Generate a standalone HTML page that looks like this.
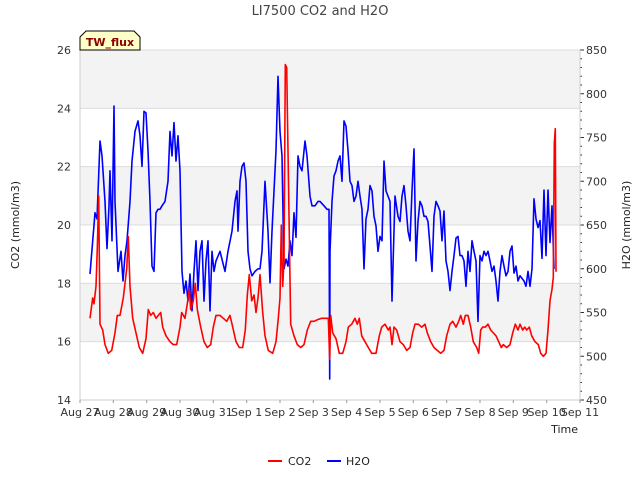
<!DOCTYPE html>
<html><head><meta charset="utf-8"><style>
body{margin:0;background:#fff;font-family:"Liberation Sans","DejaVu Sans",sans-serif;}
svg text{font-family:"DejaVu Sans","Liberation Sans",sans-serif;}
</style></head><body>
<svg id="chart" width="640" height="480" xmlns="http://www.w3.org/2000/svg">
<rect x="0" y="0" width="640" height="480" fill="#fff"/>
<g id="bands"></g><g id="grid"></g><g id="series"></g><g id="axes"></g>
<text x="320" y="15" text-anchor="middle" font-size="13" fill="#444">LI7500 CO2 and H2O</text>
<g>
<path d="M80,37 L86,31 L134,31 L140,37 L140,50 L80,50 Z" fill="#ffffc8" stroke="#000" stroke-width="1"/>
<text x="110" y="46" text-anchor="middle" font-size="11" font-weight="bold" fill="#8b0000">TW_flux</text>
</g>
<text transform="translate(19,225) rotate(-90)" text-anchor="middle" font-size="11" fill="#222">CO2 (mmol/m3)</text>
<text transform="translate(630,225) rotate(-90)" text-anchor="middle" font-size="11" fill="#222">H2O (mmol/m3)</text>
<text x="578" y="433" text-anchor="end" font-size="11" fill="#222">Time</text>
<g>
<g><line x1="268" y1="461" x2="282" y2="461" stroke="#f00" stroke-width="2"/><text x="288" y="465" font-size="11" fill="#222">CO2</text></g>
<g><line x1="327" y1="461" x2="341" y2="461" stroke="#00f" stroke-width="2"/><text x="346" y="465" font-size="11" fill="#222">H2O</text></g>
</g>
</svg>
<script>
const xTickLabels=["Aug 27","Aug 28","Aug 29","Aug 30","Aug 31","Sep 1","Sep 2","Sep 3","Sep 4","Sep 5","Sep 6","Sep 7","Sep 8","Sep 9","Sep 10","Sep 11"];
const leftTicks=[14,16,18,20,22,24,26];
const rightTicks=[450,500,550,600,650,700,750,800,850];
const co2Time=[0.30,0.38,0.42,0.48,0.52,0.56,0.60,0.68,0.75,0.85,0.95,1.05,1.12,1.20,1.30,1.40,1.45,1.50,1.58,1.68,1.78,1.88,1.98,2.05,2.12,2.20,2.28,2.35,2.42,2.48,2.58,2.70,2.80,2.90,3.00,3.05,3.15,3.22,3.28,3.32,3.40,3.46,3.52,3.62,3.72,3.82,3.92,4.00,4.08,4.20,4.30,4.40,4.50,4.58,4.68,4.78,4.88,4.96,5.02,5.08,5.15,5.22,5.28,5.34,5.40,5.48,5.55,5.65,5.78,5.88,5.95,6.00,6.04,6.08,6.12,6.16,6.20,6.26,6.32,6.42,6.52,6.62,6.72,6.82,6.92,7.02,7.12,7.25,7.45,7.49,7.52,7.58,7.68,7.78,7.88,7.98,8.05,8.15,8.25,8.32,8.38,8.45,8.55,8.65,8.75,8.88,8.98,9.05,9.15,9.25,9.30,9.36,9.42,9.50,9.60,9.70,9.80,9.90,9.98,10.05,10.15,10.25,10.35,10.42,10.52,10.62,10.72,10.82,10.92,11.00,11.10,11.18,11.28,11.36,11.42,11.50,11.56,11.64,11.72,11.80,11.90,11.96,12.02,12.08,12.16,12.24,12.32,12.40,12.48,12.56,12.64,12.70,12.80,12.90,12.98,13.06,13.14,13.20,13.28,13.34,13.40,13.48,13.55,13.65,13.75,13.82,13.90,13.98,14.04,14.10,14.16,14.20,14.23,14.26,14.28];
const co2Value=[16.8,17.5,17.3,17.9,19.2,21.0,16.6,16.4,15.9,15.6,15.7,16.3,16.9,16.9,17.5,18.5,19.6,17.9,16.8,16.3,15.8,15.6,16.1,17.1,16.9,17.0,16.8,16.9,17.0,16.5,16.2,16.0,15.9,15.9,16.5,17.0,16.8,17.3,17.8,17.1,17.4,18.0,17.1,16.5,16.0,15.8,15.9,16.5,16.9,16.9,16.8,16.7,16.9,16.5,16.0,15.8,15.8,16.4,17.6,18.3,17.4,17.6,17.0,17.5,18.3,17.0,16.2,15.7,15.6,16.0,16.8,17.5,20.0,17.9,18.8,25.5,25.4,21.0,16.6,16.2,15.9,15.8,15.9,16.4,16.7,16.7,16.75,16.8,16.8,15.4,16.9,16.3,16.1,15.6,15.6,16.0,16.5,16.6,16.8,16.6,16.8,16.2,16.0,15.8,15.6,15.6,16.2,16.5,16.6,16.4,16.5,15.9,16.5,16.4,16.0,15.9,15.7,15.8,16.3,16.6,16.6,16.5,16.6,16.3,16.0,15.8,15.7,15.6,15.7,16.2,16.6,16.7,16.5,16.7,16.9,16.6,16.9,16.9,16.5,16.0,15.8,15.6,16.4,16.5,16.5,16.6,16.4,16.3,16.2,16.0,15.8,15.9,15.8,15.9,16.3,16.6,16.4,16.6,16.4,16.5,16.4,16.5,16.2,16.0,15.9,15.6,15.5,15.6,16.4,17.4,17.8,18.2,22.8,23.3,18.4];
const h2oTime=[0.30,0.45,0.51,0.60,0.66,0.75,0.81,0.87,0.90,0.96,1.02,1.05,1.14,1.23,1.29,1.35,1.41,1.50,1.56,1.65,1.74,1.80,1.86,1.92,1.98,2.04,2.10,2.16,2.22,2.28,2.34,2.40,2.46,2.55,2.64,2.70,2.76,2.82,2.88,2.94,3.00,3.06,3.12,3.18,3.24,3.30,3.36,3.42,3.48,3.54,3.60,3.66,3.72,3.78,3.84,3.90,3.96,4.02,4.08,4.20,4.35,4.44,4.56,4.65,4.71,4.74,4.80,4.86,4.92,4.98,5.04,5.10,5.16,5.25,5.34,5.40,5.46,5.55,5.64,5.70,5.76,5.82,5.88,5.94,6.00,6.06,6.12,6.18,6.24,6.30,6.36,6.42,6.48,6.54,6.60,6.66,6.75,6.81,6.90,6.96,7.05,7.14,7.20,7.32,7.41,7.47,7.49,7.50,7.56,7.62,7.68,7.74,7.80,7.86,7.92,7.98,8.04,8.10,8.16,8.22,8.28,8.34,8.40,8.46,8.52,8.58,8.64,8.70,8.76,8.82,8.88,8.94,9.00,9.06,9.12,9.18,9.24,9.30,9.36,9.45,9.54,9.60,9.66,9.72,9.78,9.84,9.90,9.96,10.02,10.08,10.14,10.20,10.26,10.32,10.38,10.44,10.50,10.56,10.62,10.68,10.74,10.80,10.86,10.92,10.98,11.04,11.10,11.16,11.22,11.28,11.34,11.40,11.46,11.52,11.58,11.64,11.70,11.76,11.82,11.88,11.94,12.00,12.06,12.12,12.18,12.24,12.30,12.36,12.42,12.48,12.54,12.60,12.66,12.72,12.78,12.84,12.90,12.96,13.02,13.08,13.14,13.20,13.26,13.32,13.38,13.44,13.50,13.56,13.62,13.68,13.74,13.80,13.86,13.92,13.98,14.04,14.10,14.16,14.22];
const h2oValue=[594,664,657,746,729,677,623,672,712,632,786,677,597,620,586,615,632,677,723,757,769,752,717,780,778,735,677,603,597,664,668,668,672,677,700,757,729,767,723,752,712,597,572,586,563,594,552,597,632,575,620,632,563,609,632,552,620,597,609,620,597,620,643,677,689,643,700,717,721,700,620,600,592,597,600,600,620,700,643,584,643,689,735,820,757,729,600,611,603,632,615,664,636,729,717,712,746,729,683,672,672,677,677,672,668,668,474,620,677,706,712,723,729,700,769,763,735,700,695,677,683,700,683,668,600,657,668,695,689,660,649,620,637,632,723,689,683,677,563,683,660,654,683,695,672,643,632,689,737,609,654,677,672,660,660,654,626,597,660,677,672,666,632,666,609,597,575,597,615,635,637,615,615,609,580,620,597,632,620,609,540,615,609,620,615,620,609,597,603,586,563,597,615,603,592,597,620,626,595,603,586,592,589,586,580,597,580,600,680,657,647,655,612,690,615,690,630,672,600];

const L=80,R=580,T=50,B=400,NS='http://www.w3.org/2000/svg';
const xS=d=>L+(R-L)*d/15;
const yL=v=>B-(B-T)*(v-14)/12;
const yR=v=>B-(B-T)*(v-450)/400;
function mk(tag,attrs,parent,txt){const e=document.createElementNS(NS,tag);for(const k in attrs)e.setAttribute(k,attrs[k]);if(txt!==undefined)e.textContent=txt;document.getElementById(parent).appendChild(e);return e;}
for(let i=0;i<leftTicks.length-1;i++){
  if(i%2===1){const b=mk('rect',{x:L,y:yL(leftTicks[i+1]),width:R-L,height:yL(leftTicks[i])-yL(leftTicks[i+1]),fill:'#f3f3f3'},'bands');
  
  }
}
leftTicks.forEach(v=>{const g=mk('line',{x1:L,x2:R,y1:yL(v),y2:yL(v),stroke:'#dcdcdc','stroke-width':1},'grid');


const t=mk('text',{x:L-9,y:yL(v)+4,'text-anchor':'end','font-size':11,fill:'#333'},'axes',String(v));

});
rightTicks.forEach(v=>{const t=mk('text',{x:R+6,y:yR(v)+4,'font-size':11,fill:'#333'},'axes',String(v));


mk('line',{x1:R,x2:R+4,y1:yR(v),y2:yR(v),stroke:'#333'},'axes');});
for(let v=460;v<850;v+=10){if(v%50)mk('line',{x1:R,x2:R+2,y1:yR(v),y2:yR(v),stroke:'#333'},'axes');}
mk('line',{x1:L,x2:L,y1:T,y2:B,stroke:'#ccc'},'axes');
mk('line',{x1:R,x2:R,y1:T,y2:B,stroke:'#ccc'},'axes');
mk('line',{x1:L,x2:R,y1:B,y2:B,stroke:'#ccc'},'axes');
xTickLabels.forEach((s,i)=>{const t=mk('text',{x:xS(i),y:416,'text-anchor':'middle','font-size':11,fill:'#333'},'axes',s);


mk('line',{x1:xS(i),x2:xS(i),y1:B,y2:B+3,stroke:'#999'},'axes');});
function line(ts,vs,ys,color,name){const p=mk('polyline',{points:ts.map((t,i)=>xS(t).toFixed(1)+','+ys(vs[i]).toFixed(1)).join(' '),fill:'none',stroke:color,'stroke-width':1.6,'stroke-linejoin':'round'},'series');

}
line(h2oTime,h2oValue,yR,'#0000ff','h2o-line');
line(co2Time,co2Value,yL,'#ff0000','co2-line');
</script>
</body></html>
